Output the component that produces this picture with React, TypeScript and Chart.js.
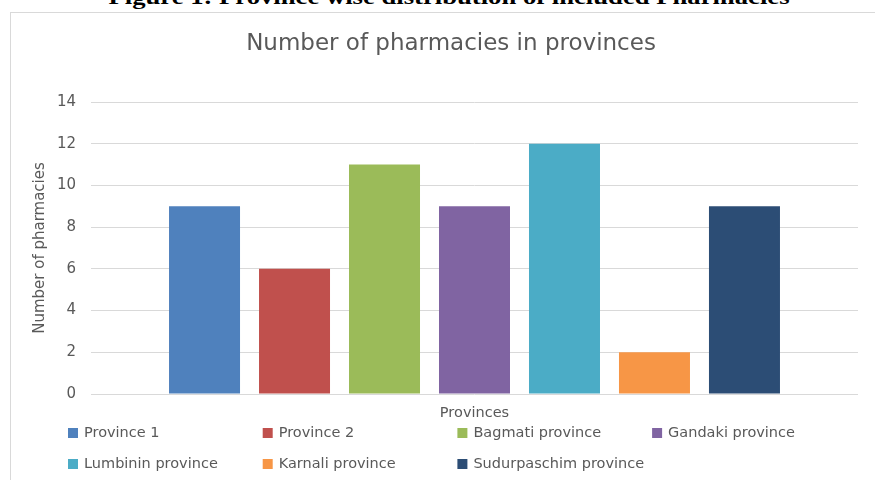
import React, { useEffect, useRef } from "react";
import { Chart, registerables } from "chart.js";

Chart.register(...registerables);

const categories = [""];
const provinces = [
  "Province 1",
  "Province 2",
  "Bagmati province",
  "Gandaki province",
  "Lumbinin province",
  "Karnali province",
  "Sudurpaschim province",
];
const counts = [9, 6, 11, 9, 12, 2, 9];
const colors = ["#4F81BD", "#C0504D", "#9BBB59", "#8064A2", "#4BACC6", "#F79646", "#2C4D75"];
const yMin = 0;
const yMax = 14;
const yStep = 2;

const chartTitle = "Number of pharmacies in provinces";
const xTitle = "Provinces";
const yTitle = "Number of pharmacies";
const caption = "Figure 1: Province wise distribution of included Pharmacies";

const FONT = "'DejaVu Sans', 'Open Sans', sans-serif";
const TEXT = "#595959";

const titleAndLegend = {
  id: "titleAndLegend",
  afterDraw(chart: any) {
    const ctx = chart.ctx;
    ctx.save();
    // chart title (centred on the chart frame, which extends past the right edge)
    ctx.font = `23px ${FONT}`;
    ctx.fillStyle = TEXT;
    ctx.textAlign = "center";
    ctx.textBaseline = "middle";
    ctx.fillText(chartTitle, 451, 44);

    // legend in a fixed grid
    const left = 68;
    const colW = 194.7;
    const rowY = [433, 464];
    const perRow = 4;
    ctx.font = `14.5px ${FONT}`;
    ctx.textBaseline = "middle";
    ctx.textAlign = "left";
    chart.data.datasets.forEach((ds: any, i: number) => {
      const r = Math.floor(i / perRow);
      const c = i % perRow;
      const x = left + c * colW;
      const y = rowY[r];
      ctx.fillStyle = ds.backgroundColor;
      ctx.fillRect(x, y - 5, 10, 10);
      ctx.fillStyle = TEXT;
      ctx.fillText(ds.label, x + 16, y + 0.5);
    });
    ctx.restore();
  },
};

export default function App() {
  const ref = useRef<HTMLCanvasElement>(null);

  useEffect(() => {
    if (!ref.current) return;
    const padLeft = 28;
    const chart = new Chart(ref.current, {
      type: "bar",
      data: {
        labels: categories,
        datasets: provinces.map((p, i) => ({
          label: p,
          data: [counts[i]],
          backgroundColor: colors[i],
          borderWidth: 0,
          categoryPercentage: 0.8213,
          barPercentage: 0.789,
        })),
      },
      options: {
        responsive: false,
        animation: false,
        devicePixelRatio: 1,
        layout: { padding: { left: padLeft, right: 17, top: 102, bottom: 57.6 } },
        plugins: {
          legend: { display: false },
          tooltip: { enabled: false },
          title: { display: false },
        },
        scales: {
          x: {
            grid: { display: false, drawTicks: false },
            border: { display: false },
            ticks: { display: false },
            title: {
              display: true,
              text: xTitle,
              color: TEXT,
              font: { family: FONT, size: 14.5 },
              padding: { top: 11, bottom: 0 },
            },
          },
          y: {
            min: yMin,
            max: yMax,
            ticks: {
              stepSize: yStep,
              color: TEXT,
              font: { family: FONT, size: 15 },
              padding: 15,
            },
            grid: { color: "#d9d9d9", drawTicks: false, lineWidth: 1 },
            border: { display: false },
            title: {
              display: true,
              text: yTitle,
              color: TEXT,
              font: { family: FONT, size: 15 },
              padding: { top: 3, bottom: 0 },
            },
            afterFit: (scale: any) => {
              scale.width = 91 - padLeft;
            },
          },
        },
      },
      plugins: [titleAndLegend],
    });
    return () => chart.destroy();
  }, []);

  return (
    <div
      style={{
        position: "absolute",
        left: 0,
        top: 0,
        width: 875,
        height: 480,
        overflow: "hidden",
        background: "#ffffff",
      }}
    >
      <div
        style={{
          position: "absolute",
          left: 0,
          top: -13,
          width: 898,
          textAlign: "center",
          fontFamily: "'Liberation Serif', 'Times New Roman', serif",
          fontWeight: "bold",
          fontSize: 20,
          lineHeight: "20px",
          whiteSpace: "nowrap",
          color: "#000",
          transform: "scaleX(1.333)",
          transformOrigin: "449px 50%",
        }}
      >
        {caption}
      </div>
      <div
        style={{
          position: "absolute",
          left: 10,
          top: 12,
          width: 900,
          height: 500,
          border: "1px solid #d9d9d9",
          boxSizing: "border-box",
        }}
      />
      <canvas
        ref={ref}
        width={875}
        height={480}
        style={{ position: "absolute", left: 0, top: 0, width: 875, height: 480 }}
      />
    </div>
  );
}
